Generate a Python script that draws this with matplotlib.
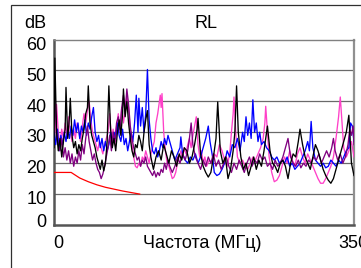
import matplotlib
matplotlib.use("Agg")
import matplotlib.pyplot as plt
from matplotlib.patches import Rectangle

plt.rcParams['font.family'] = ['Liberation Sans', 'DejaVu Sans']

# limit line (dB vs MHz)
limit_f = [0, 20, 30, 40, 50, 60, 70, 80, 90, 100]
limit_db = [17, 17, 15.2, 14, 13, 12.2, 11.6, 11, 10.5, 10]

black_f = [0, 1, 3, 5, 7, 9, 11, 13, 14, 16, 18, 19, 21, 23, 25, 27, 29, 31, 33, 35, 37, 39, 40, 42, 44, 46, 48,
           50, 52, 54, 56, 58, 60, 62, 64, 66, 68, 70, 72, 74, 76, 78, 80, 81, 83, 85, 87, 89, 91, 93, 95, 97, 99,
           101, 103, 105, 107, 109, 111, 113, 116, 119, 122, 125, 128, 131, 134, 137, 140, 143, 146, 149, 152, 155,
           158, 161, 164, 167, 168, 171, 174, 177, 180, 183, 186, 189, 191, 194, 197, 200, 203, 206, 209, 211, 213,
           215, 218, 221, 224, 227, 230, 233, 236, 239, 242, 245, 248, 249, 252, 255, 258, 261, 264, 267, 270, 273,
           276, 279, 282, 285, 287, 290, 293, 296, 299, 302, 305, 308, 311, 314, 317, 320, 323, 326, 329, 332, 335,
           338, 341, 344, 347, 350]
black_db = [25, 54, 30, 24, 28, 22, 27, 31, 44.5, 28, 35, 41, 29, 25, 27, 23, 26, 24, 28, 31, 36, 38, 45, 33, 29, 27, 25,
            22, 20, 18, 21, 17.5, 20, 27, 45, 31, 25, 28, 24, 30, 34, 29, 36, 44, 35, 40, 33, 28, 24, 22, 26, 25, 29,
            27, 24, 30, 34, 37, 26, 22, 18, 22, 24, 21, 26, 23, 20, 24, 22, 19, 23, 21, 25, 24,
            20, 22, 26, 31, 34.5, 23, 19, 17, 15.5, 17, 22, 28, 39.8, 24, 20, 22, 15, 18, 24, 30, 45,
            30, 22, 18, 20, 16, 19, 22, 18, 21, 19, 24, 30, 32, 24, 20, 19, 17, 20, 21, 19, 15,
            20, 23, 22, 27, 31, 26, 22, 20, 18, 22, 26, 24, 21, 18, 16, 14.5, 13.5, 15, 18, 21, 24,
            27, 30, 35.5, 20, 16]

blue_f = [0, 2, 4, 6, 8, 10, 12, 14, 16, 18, 20, 22, 24, 26, 28, 30, 32, 34, 36, 38, 40, 42, 44, 46, 48, 50, 52, 54,
          56, 58, 60, 62, 64, 66, 68, 70, 72, 74, 76, 78, 80, 82, 84, 86, 88, 90, 92, 94, 96, 98, 99, 101, 103, 105,
          107, 109, 111, 113, 115, 117, 119, 121, 123, 125, 127, 129, 131, 133, 135, 138, 141, 144, 147, 148, 150,
          153, 156, 159, 162, 165, 168, 171, 174, 177, 180, 182, 185, 187, 190, 193, 196, 199, 202, 205, 208, 211,
          214, 217, 220, 222, 224, 226, 228, 230, 232, 234, 236, 238, 240, 242, 245, 248, 251, 254, 257, 260, 263,
          266, 269, 272, 275, 278, 281, 284, 287, 290, 293, 296, 298, 300, 302, 305, 308, 311, 314, 317, 320, 323,
          326, 329, 332, 335, 338, 341, 344, 346, 348, 350]
blue_db = [30, 26, 31, 24, 29, 26, 30, 27, 31, 28, 32, 29, 34, 30, 33, 28, 32, 30, 34, 29, 33, 31, 35, 38, 30, 27, 29, 25,
           28, 24, 27, 24, 26, 30, 26, 30, 28, 33, 29, 27, 31, 26, 28, 24, 27, 30, 27, 33, 42, 30, 41, 32, 38, 30,
           36, 50.3, 34, 28, 24, 23, 25, 22, 24, 27, 25, 28, 26, 29, 27, 24, 21, 23, 25, 28.5, 23,
           21, 20, 22, 21, 23, 20, 22, 25, 28, 32, 27, 22, 17, 16, 16.5, 18, 20, 24, 22, 26, 25,
           28, 24, 30, 27, 35, 29, 33, 28, 40.5, 30, 33, 27, 30, 26, 27, 25, 24, 22, 21, 22, 20,
           21, 20, 22, 19, 20, 18, 19, 20, 22, 24, 27, 24, 33.5, 25, 21, 20, 19, 20, 18.5, 19, 21,
           20, 19, 21, 20, 22, 24, 25, 33, 32, 27]

pink_f = [0, 1, 3, 5, 7, 9, 11, 13, 15, 17, 19, 21, 23, 25, 27, 29, 31, 33, 35, 37, 39, 41, 43, 45, 47, 49, 51, 53, 55,
          57, 59, 61, 63, 65, 67, 69, 71, 73, 75, 77, 79, 81, 83, 85, 87, 89, 91, 93, 95, 97, 99, 101, 103, 105, 107,
          109, 111, 113, 115, 117, 119, 121, 123, 124, 125, 126, 128, 130, 132, 134, 136, 138, 140, 142, 144, 146,
          148, 150, 152, 154, 156, 158, 160, 162, 164, 166, 168, 170, 172, 174, 176, 178, 181, 184, 187, 190, 193,
          196, 199, 202, 205, 207, 209, 210, 212, 214, 217, 220, 223, 226, 229, 232, 235, 238, 241, 244, 246, 247,
          249, 251, 254, 257, 260, 263, 266, 269, 272, 275, 278, 281, 284, 287, 290, 293, 296, 299, 302, 305, 308,
          311, 314, 317, 320, 323, 326, 329, 332, 334, 336, 338, 341, 344, 347, 350]
pink_db = [28, 30, 39, 30, 26, 31, 28, 33, 29, 35, 30, 27, 31, 28, 33, 30, 27, 32, 36, 33, 37, 40, 34, 30, 28, 26, 24, 27, 25,
           23, 26, 28, 30, 36, 28, 31, 26, 32, 36, 30, 38, 33, 37, 42, 38, 30, 26, 22, 19, 18.5, 20, 19, 22, 21, 24,
           22, 20, 23, 25, 27, 33, 36, 40, 42, 38, 42.5, 30, 24, 20, 19, 17, 15, 15.5, 17, 20, 22,
           24, 22, 25, 23, 26, 28, 25, 29, 32, 35, 26, 22, 24, 20, 22, 19, 21, 20, 23, 22, 26,
           24, 21, 19, 23, 30, 36, 41.4, 30, 22, 20, 21, 19, 18, 20, 22, 21, 23, 25, 28, 33, 38.4,
           30, 22, 17, 14, 14.5, 16, 19, 22, 20, 24, 21, 19, 23, 25, 22, 20, 23, 21, 19, 17, 15,
           13.5, 13.5, 15, 17, 19, 22, 28, 35, 41.4, 33, 25, 22, 24, 27, 22]

purple_f = [0, 1, 3, 5, 7, 9, 11, 13, 15, 17, 19, 21, 23, 25, 27, 29, 31, 33, 35, 37, 39, 41, 43, 45, 47, 49, 51, 53,
            55, 57, 59, 61, 63, 65, 67, 69, 71, 73, 75, 77, 79, 81, 83, 85, 87, 89, 91, 93, 95, 97, 99, 101, 103, 105,
            107, 109, 111, 113, 115, 117, 119, 121, 123, 125, 127, 129, 131, 133, 135, 138, 141, 144, 147, 150, 153,
            156, 158, 160, 162, 165, 168, 171, 174, 177, 180, 183, 186, 189, 192, 195, 198, 201, 204, 207, 210, 213,
            216, 219, 222, 225, 228, 231, 234, 237, 240, 243, 246, 249, 252, 255, 258, 261, 264, 267, 270, 273, 276,
            279, 282, 285, 288, 291, 294, 297, 300, 303, 306, 309, 312, 315, 318, 321, 324, 326, 328, 331, 334, 337,
            340, 343, 345, 347, 349, 350]
purple_db = [47, 40, 30, 26, 24, 28, 22, 25, 21, 24, 20, 23, 19, 22, 20, 24, 21, 26, 23, 28, 32, 27, 24, 21, 23, 20, 18, 17,
             15, 16.5, 19, 22, 25, 29, 24, 30, 27, 33, 35, 31, 38, 42, 36, 44, 39, 32, 28, 25, 23, 21, 22, 19, 21, 20,
             22, 19, 18, 17, 16, 17.5, 15.5, 17, 16, 18, 17, 20, 18, 21, 19, 17, 19, 22, 20, 23, 21,
             24, 28, 33, 26, 22, 20, 18, 21, 19, 22, 20, 23, 19, 21, 18, 20, 22, 19, 17, 20, 18,
             21, 19, 17, 20, 22, 19, 21, 20, 23, 21, 22, 19, 20, 18, 21, 19, 20, 22, 25, 28, 22,
             20, 19, 21, 18.5, 20, 19, 21, 20, 22, 21, 23, 20, 22, 24, 22, 25, 28, 24, 21, 23, 20,
             22, 26, 31, 29, 32, 26]

ytick_vals = [0, 10, 20, 30, 40, 50, 60]
ytick_pos = [1.3, 8.8, 18.8, 28.8, 38.8, 48.8, 58.8]
grid_vals = [10, 20, 30, 40, 50]

fig = plt.figure(figsize=(3.61, 2.68), dpi=100)
ax = fig.add_axes([54 / 361, 43 / 268, 300 / 361, 185.5 / 268])

ax.plot(limit_f, limit_db, color='#ff0000', lw=0.9, zorder=3)
ax.plot(pink_f, pink_db, color='#ff40c8', lw=0.95, zorder=4)
ax.plot(blue_f, blue_db, color='#0000ff', lw=0.95, zorder=5)
ax.plot(purple_f, purple_db, color='#800080', lw=0.95, zorder=6)
ax.plot(black_f, black_db, color='#000000', lw=0.95, zorder=7)

for g in grid_vals:
    ax.axhline(g, color='#6a6a6a', lw=0.9, zorder=1)

ax.set_xlim(0, 350)
ax.set_ylim(0, 60)
ax.set_xticks([])
ax.set_yticks(ytick_pos)
ax.set_yticklabels([str(v) for v in ytick_vals], fontsize=13)
ax.tick_params(axis='y', length=0, pad=5.3)

ax.spines['left'].set_color('#555555')
ax.spines['left'].set_linewidth(1.8)
ax.spines['bottom'].set_color('#555555')
ax.spines['bottom'].set_linewidth(1.8)
ax.spines['top'].set_color('#808080')
ax.spines['top'].set_linewidth(1.0)
ax.spines['right'].set_color('#909090')
ax.spines['right'].set_linewidth(1.6)

fig.text(46.7 / 361, 1 - 28 / 268, 'dB', ha='right', va='baseline', fontsize=13)
fig.text(205.8 / 361, 1 - 28.3 / 268, 'RL', ha='center', va='baseline', fontsize=13)
fig.text(58.7 / 361, 1 - 248.3 / 268, '0', ha='center', va='baseline', fontsize=13)
fig.text(143.3 / 361, 1 - 248.3 / 268, 'Частота (МГц)', ha='left', va='baseline', fontsize=13)
fig.text(338.3 / 361, 1 - 248.3 / 268, '350', ha='left', va='baseline', fontsize=13)

# outer frame (runs off the right and bottom edges)
fig.patches.append(Rectangle((11 / 361, -0.2), 1.0, 1 - 5 / 268 + 0.2, transform=fig.transFigure,
                             fill=False, edgecolor='#303030', lw=0.9))

fig.savefig('out.png', dpi=100)
